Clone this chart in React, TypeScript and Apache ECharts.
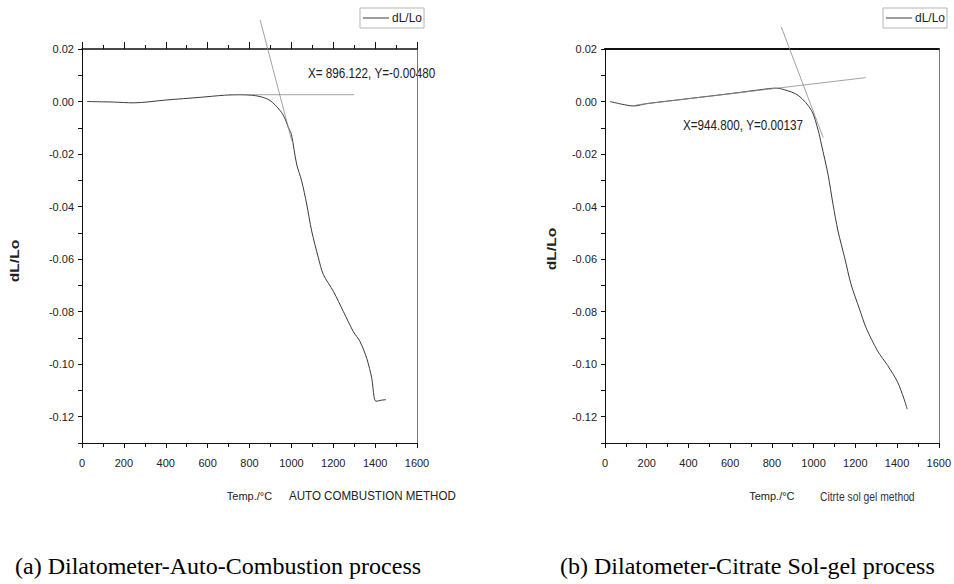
import React, { useEffect, useRef } from "react";
import * as echarts from "echarts";

// ---- Data ----
const tempA = [24, 150, 245, 405, 564, 680, 755, 810, 850, 898, 946, 970, 985, 1000, 1025, 1049, 1073, 1097, 1129, 1153, 1201, 1248, 1296, 1328, 1360, 1384, 1395, 1404, 1430, 1452];
const dlA = [0.0, -0.0002, -0.0005, 0.0006, 0.0016, 0.0024, 0.0026, 0.0024, 0.0019, 0.0004, -0.0034, -0.0066, -0.0098, -0.0125, -0.0238, -0.0302, -0.039, -0.0493, -0.0595, -0.0659, -0.0723, -0.0799, -0.0876, -0.0914, -0.0978, -0.1054, -0.1124, -0.1141, -0.1137, -0.1135];

const tempB = [24, 80, 138, 200, 400, 600, 784, 816, 860, 927, 990, 1022, 1037, 1069, 1093, 1117, 1149, 1180, 1220, 1251, 1307, 1355, 1402, 1433, 1449];
const dlB = [0.0, -0.001, -0.0017, -0.0008, 0.0011, 0.003, 0.0049, 0.0051, 0.0045, 0.0023, -0.0034, -0.011, -0.0162, -0.0277, -0.0391, -0.0493, -0.0595, -0.0697, -0.079, -0.086, -0.095, -0.1005, -0.1067, -0.1131, -0.1171];

// tangent construction lines
const tanA1T = [700, 1300];
const tanA1V = [0.0026, 0.0026];
const tanA2T = [851, 1002];
const tanA2V = [0.031, -0.0149];
const tanB1T = [150, 1250];
const tanB1V = [-0.0013, 0.0091];
const tanB2T = [845, 1046];
const tanB2V = [0.0284, -0.0137];

const xTicks = [0, 200, 400, 600, 800, 1000, 1200, 1400, 1600];
const yMin = -0.13;
const yMax = 0.02;

const zip = (xs: number[], ys: number[]) => xs.map((x, i) => [x, ys[i]]);

const SANS = '"Liberation Sans", Arial, sans-serif';
const SERIF = '"Liberation Serif", "Times New Roman", serif';

export default function App() {
  const ref = useRef<HTMLDivElement>(null);
  useEffect(() => {
    document.body.style.margin = "0";
    if (!ref.current) return;
    const chart = echarts.init(ref.current, undefined, { renderer: "svg" });

    const bottomX = (gridIndex: number) => ({
      type: "value",
      gridIndex,
      position: "bottom",
      min: xTicks[0],
      max: xTicks[xTicks.length - 1],
      interval: 200,
      name: "Temp./°C",
      nameLocation: "middle",
      nameGap: 47,
      nameTextStyle: { fontFamily: SANS, fontSize: 11, color: "#222" },
      axisLine: { show: true, onZero: false, lineStyle: { color: "#111", width: 1 } },
      axisTick: { show: true, inside: false, length: 5, lineStyle: { color: "#111" } },
      minorTick: { show: true, splitNumber: 2, length: 4, lineStyle: { color: "#111" } },
      axisLabel: {
        margin: 14,
        fontFamily: SANS,
        fontSize: 11,
        color: "#222",
        formatter: (v: number) => String(Math.round(v)),
      },
      splitLine: { show: false },
    });
    const topX = (gridIndex: number, ticks: boolean, width: number) => ({
      type: "value",
      gridIndex,
      position: "top",
      min: xTicks[0],
      max: xTicks[xTicks.length - 1],
      interval: 200,
      axisLine: { show: true, onZero: false, lineStyle: { color: "#111", width } },
      axisTick: { show: ticks, inside: false, length: 7, lineStyle: { color: "#111" } },
      minorTick: { show: ticks, splitNumber: 2, length: 4, lineStyle: { color: "#111" } },
      axisLabel: { show: false },
      splitLine: { show: false },
    });
    const leftY = (gridIndex: number) => ({
      type: "value",
      gridIndex,
      position: "left",
      min: yMin,
      max: yMax,
      interval: 0.01,
      axisLine: { show: true, onZero: false, lineStyle: { color: "#111", width: 1 } },
      axisTick: { show: true, inside: false, length: 4, lineStyle: { color: "#111" } },
      axisLabel: {
        margin: 8,
        fontFamily: SANS,
        fontSize: 11,
        color: "#222",
        formatter: (v: number) => {
          const k = Math.round(v * 100);
          return k % 2 === 0 ? (k / 100).toFixed(2) : "";
        },
      },
      splitLine: { show: false },
    });
    const rightY = (gridIndex: number) => ({
      type: "value",
      gridIndex,
      position: "right",
      min: yMin,
      max: yMax,
      interval: 0.01,
      axisLine: { show: true, onZero: false, lineStyle: { color: "#777", width: 1 } },
      axisTick: { show: false },
      axisLabel: { show: false },
      splitLine: { show: false },
    });

    const curve = (name: string, xi: number, yi: number, data: number[][]) => ({
      name,
      type: "line",
      xAxisIndex: xi,
      yAxisIndex: yi,
      data,
      showSymbol: false,
      symbol: "none",
      smooth: 0.3,
      lineStyle: { color: "#3a3a3a", width: 1 },
      itemStyle: { color: "#3a3a3a" },
      clip: false,
    });
    const tangent = (name: string, xi: number, yi: number, data: number[][]) => ({
      name,
      type: "line",
      xAxisIndex: xi,
      yAxisIndex: yi,
      data,
      showSymbol: false,
      symbol: "none",
      lineStyle: { color: "#8a8a8a", width: 0.8 },
      itemStyle: { color: "#8a8a8a" },
      clip: false,
    });

    const legendBase = {
      data: ["dL/Lo"],
      top: 8,
      orient: "horizontal",
      icon: "rect",
      itemWidth: 26,
      itemHeight: 1,
      itemGap: 4,
      padding: [4, 2, 4, 3],
      borderColor: "#b5b5b5",
      borderWidth: 1,
      borderRadius: 0,
      textStyle: { fontFamily: SANS, fontSize: 12, color: "#222", padding: [0, 0, 0, -2] },
    };

    const txt = (text: string, x: number, y: number, size: number, scaleX: number, extra: any = {}) => ({
      type: "text",
      x,
      y,
      scaleX,
      style: { text, font: `${size}px ${SANS}`, fill: "#222", align: "left", verticalAlign: "middle", ...extra },
    });

    const option: any = {
      animation: false,
      backgroundColor: "#ffffff",
      grid: [
        { left: 82, top: 49, width: 335, height: 394 },
        { left: 605, top: 49, width: 337, height: 394 },
      ],
      xAxis: [bottomX(0), topX(0, true, 1.5), bottomX(1), topX(1, false, 2.2)],
      yAxis: [leftY(0), rightY(0), leftY(1), rightY(1)],
      legend: [
        { ...legendBase, left: 360 },
        { ...legendBase, left: 883 },
      ],
      series: [
        curve("dL/Lo", 0, 0, zip(tempA, dlA)),
        tangent("tangent A1", 0, 0, zip(tanA1T, tanA1V)),
        tangent("tangent A2", 0, 0, zip(tanA2T, tanA2V)),
        curve("dL/Lo", 2, 2, zip(tempB, dlB)),
        tangent("tangent B1", 2, 2, zip(tanB1T, tanB1V)),
        tangent("tangent B2", 2, 2, zip(tanB2T, tanB2V)),
      ],
      graphic: [
        {
          type: "text",
          x: 15,
          y: 261,
          rotation: Math.PI / 2,
          scaleX: 1.3,
          style: { text: "dL/Lo", font: `bold 12px ${SANS}`, fill: "#222", align: "center", verticalAlign: "middle" },
        },
        {
          type: "text",
          x: 552,
          y: 249,
          rotation: Math.PI / 2,
          scaleX: 1.3,
          style: { text: "dL/Lo", font: `bold 12px ${SANS}`, fill: "#222", align: "center", verticalAlign: "middle" },
        },
        txt("X= 896.122, Y=-0.00480", 308, 73, 15, 0.78),
        txt("X=944.800, Y=0.00137", 683, 125, 15, 0.78),
        txt("AUTO COMBUSTION METHOD", 289, 496, 13, 0.89),
        txt("Citrte sol gel method", 820, 497, 12, 0.86, { fill: "#333" }),
        {
          type: "text",
          x: 15,
          y: 566,
          style: { text: "(a) Dilatometer-Auto-Combustion process", font: `24px ${SERIF}`, fill: "#000", align: "left", verticalAlign: "middle" },
        },
        {
          type: "text",
          x: 560,
          y: 566,
          style: { text: "(b) Dilatometer-Citrate Sol-gel process", font: `24px ${SERIF}`, fill: "#000", align: "left", verticalAlign: "middle" },
        },
      ],
    };

    chart.setOption(option);
    return () => chart.dispose();
  }, []);

  return (
    <div
      ref={ref}
      style={{ position: "absolute", left: 0, top: 0, width: 954, height: 584, overflow: "hidden", background: "#fff" }}
    />
  );
}
